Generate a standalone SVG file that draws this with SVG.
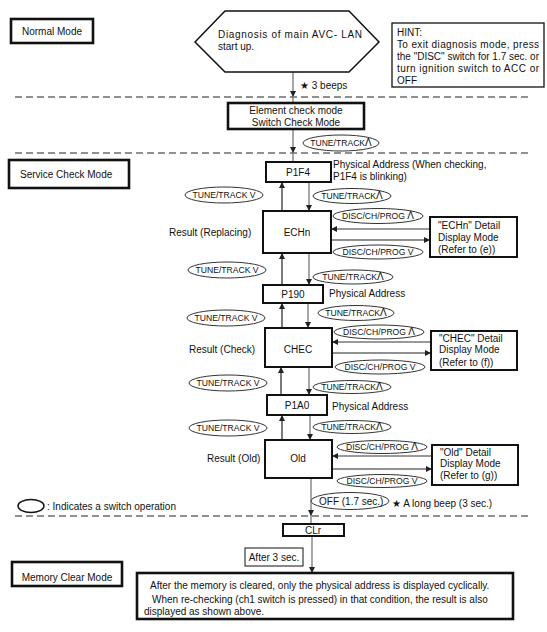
<svg xmlns="http://www.w3.org/2000/svg" width="547" height="632" viewBox="0 0 547 632">
<style>
text{font-family:"Liberation Sans",Arial,sans-serif;fill:#111;font-size:10px}
.sm{font-size:8.6px}
.mid{text-anchor:middle}
.box{fill:#fff;stroke:#111;stroke-width:2}
.thick{fill:#fff;stroke:#111;stroke-width:2.6}
.thin{fill:#fff;stroke:#111;stroke-width:1.3}
.ell{fill:#fff;stroke:#333;stroke-width:1}
.dash{stroke:#222;stroke-width:1.2;stroke-dasharray:7 4;fill:none}
.ln{stroke:#222;stroke-width:1.2;fill:none}
.lg{stroke:#777;stroke-width:1.3;fill:none}
</style>
<defs>
<marker id="ah" viewBox="0 0 10 10" refX="10" refY="5" markerWidth="6" markerHeight="6" markerUnits="userSpaceOnUse" orient="auto">
<path d="M0,0 L10,5 L0,10 z" fill="#222"/>
</marker>
</defs>
<rect width="547" height="632" fill="#fff"/>

<g id="dividers">
<line class="dash" x1="15" y1="97" x2="532" y2="97"/>
<line class="dash" x1="15" y1="153" x2="532" y2="153"/>
<line class="dash" x1="15" y1="516" x2="532" y2="516"/>
</g>

<g id="connectors">
<line class="lg" x1="293" y1="72" x2="293" y2="97" marker-end="url(#ah)"/>
<line class="lg" x1="293" y1="97" x2="293" y2="103"/>
<line class="lg" x1="293" y1="129" x2="293" y2="153" marker-end="url(#ah)"/>
<line class="lg" x1="293" y1="153" x2="293" y2="162"/>

<line class="ln" x1="282" y1="211" x2="282" y2="182" marker-end="url(#ah)"/>
<line class="lg" x1="309" y1="182" x2="309" y2="211" marker-end="url(#ah)"/>
<line class="ln" x1="282" y1="285" x2="282" y2="253" marker-end="url(#ah)"/>
<line class="lg" x1="309" y1="253" x2="309" y2="285" marker-end="url(#ah)"/>
<line class="ln" x1="282" y1="328" x2="282" y2="303" marker-end="url(#ah)"/>
<line class="lg" x1="308" y1="303" x2="308" y2="328" marker-end="url(#ah)"/>
<line class="ln" x1="281" y1="395" x2="281" y2="367" marker-end="url(#ah)"/>
<line class="lg" x1="309" y1="367" x2="309" y2="395" marker-end="url(#ah)"/>
<line class="ln" x1="282" y1="440" x2="282" y2="415" marker-end="url(#ah)"/>
<line class="lg" x1="310" y1="415" x2="310" y2="440" marker-end="url(#ah)"/>

<line class="lg" x1="430" y1="229" x2="331" y2="229" marker-end="url(#ah)"/>
<line class="ln" x1="331" y1="240" x2="430" y2="240" marker-end="url(#ah)"/>
<line class="lg" x1="431" y1="342" x2="332" y2="342" marker-end="url(#ah)"/>
<line class="ln" x1="332" y1="353" x2="431" y2="353" marker-end="url(#ah)"/>
<line class="lg" x1="432" y1="456" x2="332" y2="456" marker-end="url(#ah)"/>
<line class="ln" x1="332" y1="469" x2="432" y2="469" marker-end="url(#ah)"/>

<line class="lg" x1="311" y1="478" x2="311" y2="516" marker-end="url(#ah)"/>
<line class="lg" x1="311" y1="516" x2="311" y2="524"/>
<line class="lg" x1="312" y1="536" x2="312" y2="573" marker-end="url(#ah)"/>
</g>

<g id="normal-mode">
<rect class="thick" x="11" y="19" width="82" height="24"/>
<text class="mid" x="52" y="34.5">Normal Mode</text>
</g>

<g id="diagnosis">
<polygon points="195,42 225,11 349,11 379,42 349,72 225,72" fill="#fff" stroke="#111" stroke-width="1.5"/>
<text x="218" y="38" textLength="144" lengthAdjust="spacing">Diagnosis of main AVC- LAN</text>
<text x="218" y="50">start up.</text>
</g>

<g id="hint">
<rect class="thin" x="392" y="23" width="152" height="64"/>
<text x="397" y="36" font-size="9.5">HINT:</text>
<text x="397" y="48" font-size="9.5" textLength="142" lengthAdjust="spacing">To exit diagnosis mode, press</text>
<text x="397" y="60" font-size="9.5" textLength="142" lengthAdjust="spacing">the "DISC" switch for 1.7 sec. or</text>
<text x="397" y="72" font-size="9.5" textLength="142" lengthAdjust="spacing">turn ignition switch to ACC or</text>
<text x="397" y="84" font-size="9.5">OFF</text>
</g>

<g id="beeps">
<text x="300" y="89" font-size="9.5">★ 3 beeps</text>
</g>

<g id="element-check">
<rect class="thick" x="228" y="103" width="136" height="26"/>
<text class="mid" x="296" y="114">Element check mode</text>
<text class="mid" x="296" y="125.5">Switch Check Mode</text>
</g>

<g id="op-top">
<ellipse class="ell" cx="341" cy="143" rx="38" ry="8"/>
<text class="mid sm" x="341" y="146">TUNE/TRACK<tspan font-size="10">Λ</tspan></text>
</g>

<g id="service-mode">
<rect class="thick" x="9" y="160" width="120" height="28"/>
<text x="20" y="178">Service Check Mode</text>
</g>

<g id="p1f4">
<rect class="box" x="266" y="162" width="65" height="20"/>
<text class="mid" x="298" y="176">P1F4</text>
<text x="333" y="168">Physical Address (When checking,</text>
<text x="333" y="180">P1F4 is blinking)</text>
</g>

<g id="echn">
<rect class="box" x="263" y="211" width="68" height="42"/>
<text class="mid" x="297" y="236">ECHn</text>
<text x="169" y="236">Result (Replacing)</text>
</g>

<g id="echn-detail">
<rect class="box" x="430" y="217" width="87" height="40"/>
<text x="438" y="229">"ECHn" Detail</text>
<text x="438" y="241">Display Mode</text>
<text x="438" y="253">(Refer to (e))</text>
</g>

<g id="p190">
<rect class="box" x="263" y="285" width="60" height="18"/>
<text class="mid" x="293" y="298">P190</text>
<text x="329" y="297">Physical Address</text>
</g>

<g id="chec">
<rect class="box" x="265" y="328" width="67" height="39"/>
<text class="mid" x="298" y="352.5">CHEC</text>
<text x="189" y="352.5">Result (Check)</text>
</g>

<g id="chec-detail">
<rect class="box" x="431" y="331" width="86" height="39"/>
<text x="439" y="342">"CHEC" Detail</text>
<text x="439" y="353">Display Mode</text>
<text x="439" y="366">(Refer to (f))</text>
</g>

<g id="p1a0">
<rect class="box" x="267" y="395" width="60" height="20"/>
<text class="mid" x="297" y="408.5">P1A0</text>
<text x="332" y="409.5">Physical Address</text>
</g>

<g id="old">
<rect class="box" x="265" y="440" width="67" height="38"/>
<text class="mid" x="298" y="462">Old</text>
<text x="207" y="462">Result (Old)</text>
</g>

<g id="old-detail">
<rect class="box" x="432" y="445" width="86" height="40"/>
<text x="440" y="456">"Old" Detail</text>
<text x="440" y="467">Display Mode</text>
<text x="440" y="479">(Refer to (g))</text>
</g>

<g id="ops-left">
<ellipse class="ell" cx="224" cy="195" rx="39" ry="8"/>
<text class="mid sm" x="224" y="198">TUNE/TRACK V</text>
<ellipse class="ell" cx="227" cy="270" rx="39" ry="8"/>
<text class="mid sm" x="227" y="273">TUNE/TRACK V</text>
<ellipse class="ell" cx="226" cy="318" rx="39" ry="8"/>
<text class="mid sm" x="226" y="321">TUNE/TRACK V</text>
<ellipse class="ell" cx="228" cy="383" rx="39" ry="8"/>
<text class="mid sm" x="228" y="386">TUNE/TRACK V</text>
<ellipse class="ell" cx="228" cy="428" rx="39" ry="8"/>
<text class="mid sm" x="228" y="431">TUNE/TRACK V</text>
</g>

<g id="ops-right">
<ellipse class="ell" cx="352" cy="196" rx="39" ry="7.5"/>
<text class="mid sm" x="352" y="199">TUNE/TRACK<tspan font-size="10">Λ</tspan></text>
<ellipse class="ell" cx="378" cy="216" rx="45" ry="7.5"/>
<text class="mid sm" x="378" y="219">DISC/CH/PROG <tspan font-size="10">Λ</tspan></text>
<ellipse class="ell" cx="378" cy="252" rx="45" ry="7"/>
<text class="mid sm" x="378" y="255">DISC/CH/PROG V</text>
<ellipse class="ell" cx="353" cy="277" rx="40" ry="7"/>
<text class="mid sm" x="353" y="280">TUNE/TRACK<tspan font-size="10">Λ</tspan></text>
<ellipse class="ell" cx="356" cy="313" rx="38" ry="7.5"/>
<text class="mid sm" x="356" y="316">TUNE/TRACK<tspan font-size="10">Λ</tspan></text>
<ellipse class="ell" cx="379" cy="332" rx="45" ry="7"/>
<text class="mid sm" x="379" y="335">DISC/CH/PROG <tspan font-size="10">Λ</tspan></text>
<ellipse class="ell" cx="380" cy="367" rx="45" ry="7"/>
<text class="mid sm" x="380" y="370">DISC/CH/PROG V</text>
<ellipse class="ell" cx="352" cy="387" rx="39" ry="6.5"/>
<text class="mid sm" x="352" y="390">TUNE/TRACK<tspan font-size="10">Λ</tspan></text>
<ellipse class="ell" cx="352" cy="427" rx="39" ry="6.5"/>
<text class="mid sm" x="352" y="430">TUNE/TRACK<tspan font-size="10">Λ</tspan></text>
<ellipse class="ell" cx="382" cy="447" rx="45" ry="6.5"/>
<text class="mid sm" x="382" y="450">DISC/CH/PROG <tspan font-size="10">Λ</tspan></text>
<ellipse class="ell" cx="382" cy="481" rx="45" ry="6.5"/>
<text class="mid sm" x="382" y="484">DISC/CH/PROG V</text>
</g>

<g id="off">
<ellipse class="ell" cx="350" cy="501" rx="39" ry="8.5"/>
<text x="319" y="505" font-size="10.5">OFF (1.7 sec.)</text>
<text x="392" y="507">★ A long beep (3 sec.)</text>
</g>

<g id="legend">
<ellipse cx="31" cy="506" rx="13" ry="6.5" fill="#fff" stroke="#111" stroke-width="1.5"/>
<text x="47" y="509.5">: Indicates a switch operation</text>
</g>

<g id="clr">
<rect class="box" x="283" y="524" width="61" height="12"/>
<text class="mid" x="313" y="534">CLr</text>
</g>

<g id="after3">
<rect fill="#fff" stroke="#111" stroke-width="1" x="245" y="548" width="58" height="18"/>
<text class="mid" x="274" y="561">After 3 sec.</text>
</g>

<g id="memory-mode">
<rect class="thick" x="12" y="562" width="110" height="24"/>
<text class="mid" x="67" y="580.5">Memory Clear Mode</text>
</g>

<g id="memory-note">
<rect class="thick" x="137" y="573" width="376" height="46"/>
<text x="150" y="589" font-size="9.4">After the memory is cleared, only the physical address is displayed cyclically.</text>
<text x="152" y="603" font-size="9.4">When re-checking (ch1 switch is pressed) in that condition, the result is also</text>
<text x="144" y="615" font-size="9.4">displayed as shown above.</text>
</g>
</svg>
